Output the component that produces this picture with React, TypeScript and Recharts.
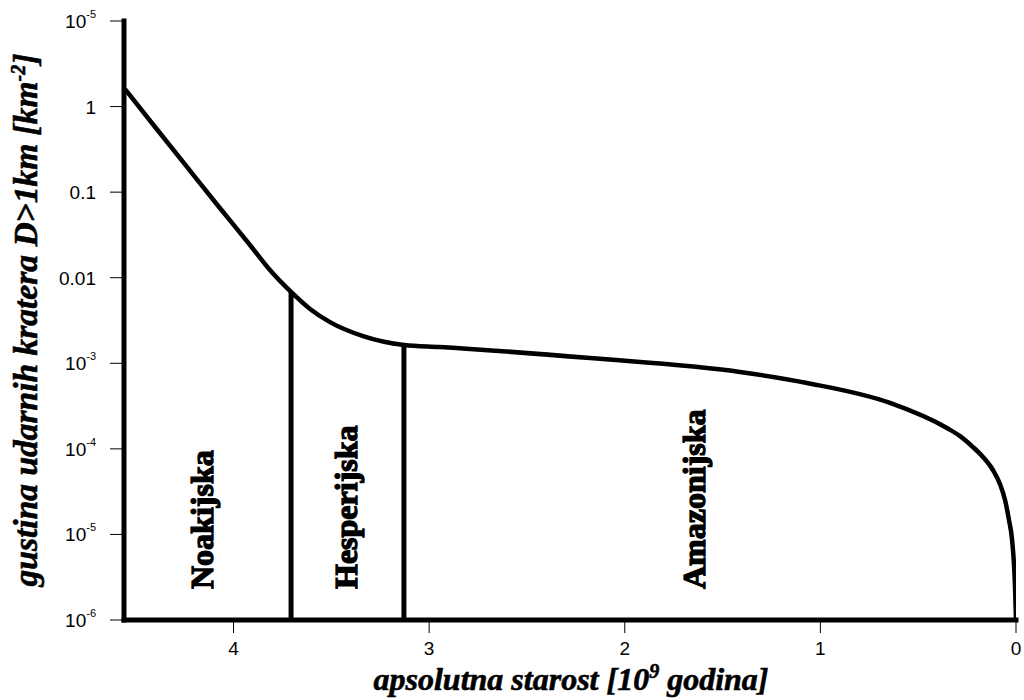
import React from 'react';
import { LineChart, Line, XAxis, YAxis, ReferenceLine } from 'recharts';

// crater density curve, age in 10^9 years (left = old)
const ages = [4.555, 4.397, 4.238, 4.07, 3.916, 3.814, 3.706, 3.609, 3.507, 3.338, 3.129, 2.945, 2.178, 1.411, 1.069, 0.644, 0.353, 0.286, 0.22, 0.169, 0.118, 0.082, 0.056, 0.036, 0.02, 0.005, 0];
const densities = [1.6, 0.562, 0.197, 0.0653, 0.0241, 0.0123, 0.00681, 0.00431, 0.00303, 0.00208, 0.00164, 0.00155, 0.00115, 0.000791, 0.000589, 0.000344, 0.000175, 0.000141, 0.000105, 0.0000804, 0.0000566, 0.0000388, 0.0000252, 0.0000148, 0.0000086, 0.00000243, 0.000001];

// period boundaries
const boundaryAges = [3.706, 3.129];
const boundaryTops = [0.00681, 0.00164];

const periods = ['Noakijska', 'Hesperijska', 'Amazonijska'];

const xTicks = [4, 3, 2, 1, 0];
const yTicks = [1e-6, 1e-5, 1e-4, 1e-3, 0.01, 0.1, 1, 10];
const yTickLabels = ['10^-6', '10^-5', '10^-4', '10^-3', '0.01', '0.1', '1', '10^-5'];

const data = ages.map((a, i) => ({ age: a, d: densities[i] }));

const tickFont = { fontFamily: "'Liberation Sans', Arial, sans-serif", fontSize: 19, fill: '#000' };
const serif = "'Liberation Serif', 'Times New Roman', serif";

const YTick = (props: any) => {
  const { x, y, payload } = props;
  const idx = yTicks.findIndex((t) => Math.abs(t - payload.value) < payload.value * 1e-6);
  const label = idx >= 0 ? yTickLabels[idx] : String(payload.value);
  const parts = label.split('^');
  return (
    <text x={x - 12} y={y + 7} textAnchor="end" {...tickFont}>
      <tspan>{parts[0]}</tspan>
      {parts[1] && (
        <tspan dy={-10} fontSize={11}>
          {parts[1]}
        </tspan>
      )}
    </text>
  );
};

const titleStyle = { fontFamily: serif, fontWeight: 'bold', fontStyle: 'italic', stroke: '#000', strokeWidth: 0.6 };

const App: React.FC = () => {
  return (
    <div style={{ position: 'relative', width: 1024, height: 700 }}>
      <style>{'body{margin:0}'}</style>
      <LineChart width={1024} height={700} data={data} margin={{ top: 21, right: 8, bottom: 0, left: 0 }}>
        <XAxis
          dataKey="age"
          type="number"
          domain={[0, 4.56]}
          reversed
          allowDataOverflow
          ticks={xTicks}
          height={80}
          tickSize={13}
          tickMargin={9}
          axisLine={{ stroke: '#000', strokeWidth: 5, strokeLinecap: 'square' }}
          tickLine={{ stroke: '#000', strokeWidth: 1 }}
          tick={tickFont}
        />
        <YAxis
          type="number"
          scale="log"
          domain={[1e-6, 10]}
          allowDataOverflow
          ticks={yTicks}
          width={124}
          tickSize={14}
          axisLine={{ stroke: '#000', strokeWidth: 5, strokeLinecap: 'square' }}
          tickLine={{ stroke: '#000', strokeWidth: 1 }}
          tick={(p: any) => <YTick {...p} />}
        />
        {boundaryAges.map((a, i) => (
          <ReferenceLine
            key={a}
            segment={[
              { x: a, y: 1e-6 },
              { x: a, y: boundaryTops[i] },
            ]}
            stroke="#000"
            strokeWidth={5}
            ifOverflow="visible"
          />
        ))}
        <Line
          dataKey="d"
          type="monotone"
          stroke="#000"
          strokeWidth={4.5}
          dot={false}
          isAnimationActive={false}
        />
      </LineChart>
      <svg width={1024} height={700} style={{ position: 'absolute', left: 0, top: 0, pointerEvents: 'none' }}>
        <text
          x={37}
          y={320}
          transform="rotate(-90 37 320)"
          textAnchor="middle"
          style={{ ...titleStyle, fontSize: 33.5 }}
        >
          gustina udarnih kratera D&gt;1km [km
          <tspan dy={-12} style={{ fontSize: 20 }}>-2</tspan>
          <tspan dy={12}>]</tspan>
        </text>
        <text x={571} y={690} textAnchor="middle" style={{ ...titleStyle, fontSize: 32 }}>
          apsolutna starost [10
          <tspan dy={-12} style={{ fontSize: 20 }}>9</tspan>
          <tspan dy={12}> godina]</tspan>
        </text>
        {[
          [213, periods[0]],
          [357, periods[1]],
          [705, periods[2]],
        ].map(([x, t]) => (
          <text
            key={t as string}
            x={x as number}
            y={589}
            transform={`rotate(-90 ${x} 589)`}
            style={{ fontFamily: serif, fontWeight: 'bold', fontSize: 32, stroke: '#000', strokeWidth: 1.3 }}
          >
            {t}
          </text>
        ))}
      </svg>
    </div>
  );
};

export default App;
